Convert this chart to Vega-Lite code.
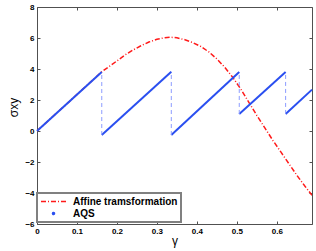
{
  "$schema": "https://vega.github.io/schema/vega-lite/v6.json",
  "width": 275,
  "height": 217,
  "autosize": "none",
  "padding": {"left": 37, "top": 7, "right": 4, "bottom": 27},
  "background": "white",
  "config": {
    "font": "Liberation Sans",
    "view": {"stroke": null},
    "axis": {
      "grid": false,
      "domainColor": "#505050",
      "domainWidth": 1,
      "tickColor": "#505050",
      "tickSize": -3,
      "labelFont": "Liberation Sans",
      "labelFontSize": 8,
      "labelFontWeight": "bold",
      "labelColor": "#000000",
      "titleFont": "Liberation Sans",
      "titleFontWeight": "normal",
      "titleColor": "#000000"
    }
  },
  "datasets": {
    "affine": [
      {"x": 0, "y": 0}, {"x": 0.08, "y": 1.88}, {"x": 0.162, "y": 3.82},
      {"x": 0.18, "y": 4.15}, {"x": 0.2, "y": 4.52}, {"x": 0.22, "y": 4.9},
      {"x": 0.24, "y": 5.22}, {"x": 0.26, "y": 5.5}, {"x": 0.28, "y": 5.74},
      {"x": 0.3, "y": 5.92}, {"x": 0.32, "y": 6.02}, {"x": 0.335, "y": 6.05},
      {"x": 0.35, "y": 6.01}, {"x": 0.37, "y": 5.89}, {"x": 0.39, "y": 5.7},
      {"x": 0.41, "y": 5.45}, {"x": 0.43, "y": 5.1}, {"x": 0.45, "y": 4.65},
      {"x": 0.47, "y": 4.1}, {"x": 0.49, "y": 3.45}, {"x": 0.51, "y": 2.7},
      {"x": 0.53, "y": 1.85}, {"x": 0.55, "y": 1.0}, {"x": 0.57, "y": 0.2},
      {"x": 0.59, "y": -0.6}, {"x": 0.61, "y": -1.35}, {"x": 0.63, "y": -2.1},
      {"x": 0.65, "y": -2.85}, {"x": 0.67, "y": -3.55}, {"x": 0.688, "y": -4.15}
    ],
    "aqs": [
      {"seg": 1, "x": 0, "y": 0}, {"seg": 1, "x": 0.162, "y": 3.8},
      {"seg": 2, "x": 0.162, "y": -0.26}, {"seg": 2, "x": 0.336, "y": 3.82},
      {"seg": 3, "x": 0.336, "y": -0.26}, {"seg": 3, "x": 0.506, "y": 3.8},
      {"seg": 4, "x": 0.506, "y": 1.1}, {"seg": 4, "x": 0.622, "y": 3.8},
      {"seg": 5, "x": 0.622, "y": 1.1}, {"seg": 5, "x": 0.688, "y": 2.67}
    ],
    "drops": [
      {"x": 0.162, "y": -0.26, "y2": 3.8},
      {"x": 0.336, "y": -0.26, "y2": 3.82},
      {"x": 0.506, "y": 1.1, "y2": 3.8},
      {"x": 0.622, "y": 1.1, "y2": 3.8}
    ]
  },
  "layer": [
    {
      "data": {"name": "affine"},
      "mark": {"type": "line", "strokeWidth": 1.5, "strokeDash": [5, 2, 1, 2], "clip": true},
      "encoding": {
        "x": {"field": "x", "type": "quantitative",
          "scale": {"domain": [0, 0.688], "nice": false, "zero": false},
          "axis": {"orient": "bottom", "values": [0, 0.1, 0.2, 0.3, 0.4, 0.5, 0.6], "format": "~g", "title": "γ", "titleFontSize": 12, "labelPadding": 6, "titlePadding": 0, "labelFlush": false}},
        "y": {"field": "y", "type": "quantitative",
          "scale": {"domain": [-6, 8], "nice": false, "zero": false},
          "axis": {"orient": "left", "values": [-6, -4, -2, 0, 2, 4, 6, 8], "title": "σxy", "titleFontSize": 12, "labelPadding": 6, "titlePadding": 4, "titleY": 100}},
        "color": {"datum": "Affine tramsformation", "type": "nominal",
          "scale": {"domain": ["Affine tramsformation", "AQS"], "range": ["#ff1a1a", "#2a4ff0"]},
          "legend": {
            "orient": "none", "legendX": 0, "legendY": 186,
            "title": null,
            "labelFont": "Liberation Sans", "labelFontSize": 10, "labelFontWeight": "bold", "labelColor": "#000000",
            "fillColor": "white", "strokeColor": "#808080", "padding": 3, "rowPadding": 1,
            "clipHeight": 11,
            "symbolType": "stroke", "symbolSize": 625, "symbolStrokeWidth": 1.5, "labelOffset": 6,
            "encode": {
              "legend": {"update": {"strokeWidth": {"value": 2}}},
              "symbols": {"update": {
                "shape": {"signal": "datum.value === 'AQS' ? 'circle' : 'stroke'"},
                "size": {"signal": "datum.value === 'AQS' ? 4 : 625"},
                "strokeDash": {"signal": "datum.value === 'AQS' ? [1, 0] : [5, 2, 1, 2]"},
                "fill": {"signal": "datum.value === 'AQS' ? '#2a4ff0' : 'transparent'"}
              }}
            }
          }}
      }
    },
    {
      "data": {"name": "aqs"},
      "mark": {"type": "line", "strokeWidth": 2},
      "encoding": {
        "x": {"field": "x", "type": "quantitative", "axis": null},
        "y": {"field": "y", "type": "quantitative", "axis": null},
        "detail": {"field": "seg", "type": "nominal"},
        "color": {"datum": "AQS", "type": "nominal"}
      }
    },
    {
      "data": {"name": "drops"},
      "mark": {"type": "rule", "color": "#8c9cff", "strokeWidth": 1, "strokeDash": [4, 3]},
      "encoding": {
        "x": {"field": "x", "type": "quantitative",
          "axis": {"orient": "top", "values": [0, 0.1, 0.2, 0.3, 0.4, 0.5, 0.6], "labels": false, "title": null}},
        "y": {"field": "y", "type": "quantitative",
          "axis": {"orient": "right", "values": [-6, -4, -2, 0, 2, 4, 6, 8], "labels": false, "title": null}},
        "y2": {"field": "y2"}
      }
    }
  ],
  "resolve": {"axis": {"x": "independent", "y": "independent"}}
}
